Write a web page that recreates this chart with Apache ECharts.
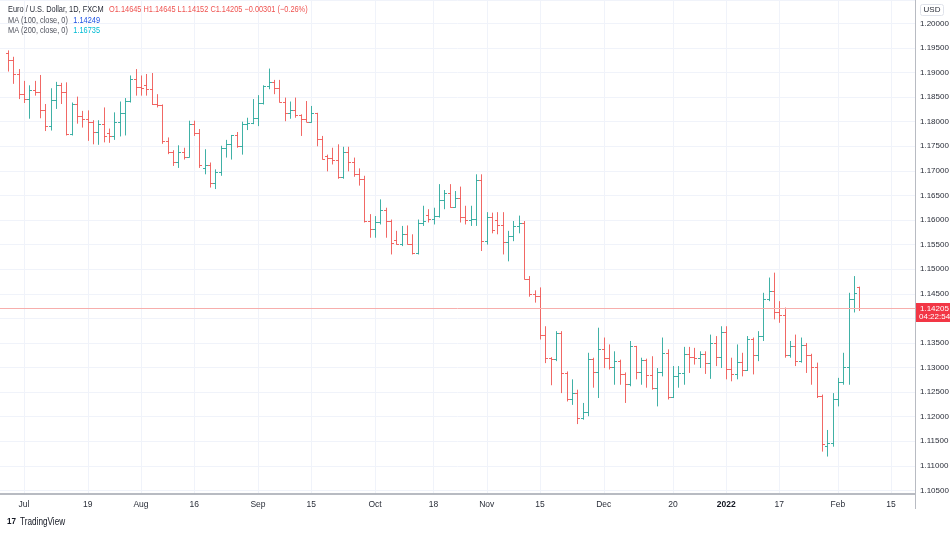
<!DOCTYPE html>
<html><head><meta charset="utf-8">
<script src="https://cdn.jsdelivr.net/npm/echarts@6/dist/echarts.min.js"></script>
<style>html,body{margin:0;padding:0;background:#fff}#c{width:950px;height:533px}</style>
</head><body><div id="c"></div><script>
// ---- categories: daily trading sessions (weekdays) ----
const firstDay = '2021-06-25';
const lastDay = '2022-02-21';
const days = [];
for (let d = new Date(firstDay + 'T00:00:00Z'); d <= new Date(lastDay + 'T00:00:00Z'); d.setUTCDate(d.getUTCDate() + 1)) {
  const w = d.getUTCDay();
  if (w !== 0 && w !== 6) days.push(d.toISOString().slice(0, 10));
}
// first bar with data
const firstBar = '2021-06-28';

// ---- OHLC values (EUR/USD daily, FXCM) ----
const open = [1.1940,1.1925,1.1897,1.1857,1.1847,1.1865,1.1861,1.1823,1.1791,1.1844,
1.1874,1.1861,1.1775,1.1836,1.1812,1.1806,1.1800,1.1780,1.1795,1.1776,
1.1770,1.1800,1.1818,1.1843,1.1887,1.1870,1.1875,1.1867,1.1836,1.1833,
1.1761,1.1738,1.1719,1.1738,1.1728,1.1796,1.1778,1.1705,1.1712,1.1676,
1.1697,1.1747,1.1754,1.1772,1.1751,1.1795,1.1797,1.1807,1.1838,1.1873,
1.1881,1.1868,1.1841,1.1817,1.1823,1.1813,1.1805,1.1800,1.1817,1.1764,
1.1730,1.1727,1.1723,1.1688,1.1739,1.1718,1.1694,1.1683,1.1598,1.1581,
1.1595,1.1621,1.1598,1.1560,1.1552,1.1572,1.1552,1.1532,1.1594,1.1610,
1.1602,1.1608,1.1640,1.1655,1.1626,1.1645,1.1607,1.1600,1.1603,1.1682,
1.1558,1.1607,1.1601,1.1590,1.1555,1.1567,1.1587,1.1594,1.1481,1.1449,
1.1445,1.1367,1.1320,1.1318,1.1371,1.1289,1.1237,1.1249,1.1198,1.1210,
1.1318,1.1290,1.1337,1.1319,1.1301,1.1314,1.1286,1.1266,1.1343,1.1291,
1.1316,1.1285,1.1258,1.1291,1.1330,1.1240,1.1282,1.1288,1.1327,1.1322,
1.1319,1.1327,1.1310,1.1350,1.1322,1.1372,1.1297,1.1287,1.1312,1.1296,
1.1359,1.1326,1.1365,1.1440,1.1455,1.1412,1.1406,1.1325,1.1344,1.1313,
1.1345,1.1325,1.1302,1.1242,1.1140,1.1147,1.1235,1.1271,1.1302,1.1440,
1.14645];
const high = [1.1945,1.1932,1.1907,1.1883,1.1874,1.1883,1.1895,1.1836,1.1868,1.1881,
1.1879,1.1880,1.1839,1.1851,1.1822,1.1823,1.1803,1.1803,1.1829,1.1786,
1.1819,1.1841,1.1848,1.1894,1.1907,1.1894,1.1897,1.1899,1.1856,1.1835,
1.1768,1.1742,1.1752,1.1747,1.1802,1.1802,1.1785,1.1744,1.1717,1.1703,
1.1751,1.1763,1.1773,1.1779,1.1800,1.1808,1.1846,1.1854,1.1874,1.1908,
1.1885,1.1885,1.1849,1.1841,1.1849,1.1815,1.1842,1.1832,1.1818,1.1771,
1.1733,1.1747,1.1754,1.1749,1.1749,1.1727,1.1705,1.1690,1.1612,1.1608,
1.1642,1.1625,1.1601,1.1578,1.1588,1.1589,1.1571,1.1601,1.1629,1.1622,
1.1625,1.1673,1.1661,1.1673,1.1659,1.1668,1.1629,1.1629,1.1693,1.1693,
1.1616,1.1615,1.1616,1.1616,1.1578,1.1598,1.1609,1.1598,1.1486,1.1457,
1.1463,1.1384,1.1321,1.1374,1.1374,1.1292,1.1276,1.1255,1.1228,1.1330,
1.1320,1.1381,1.1361,1.1347,1.1333,1.1316,1.1290,1.1354,1.1344,1.1320,
1.1318,1.1323,1.1299,1.1361,1.1337,1.1303,1.1303,1.1342,1.1342,1.1340,
1.1333,1.1333,1.1367,1.1364,1.1384,1.1384,1.1320,1.1347,1.1330,1.1364,
1.1361,1.1374,1.1452,1.1483,1.1493,1.1435,1.1422,1.1354,1.1367,1.1361,
1.1350,1.1328,1.1310,1.1245,1.1173,1.1248,1.1279,1.1330,1.1452,1.1486,
1.14645];
const low = [1.1902,1.1877,1.1846,1.1838,1.1806,1.1853,1.1807,1.1781,1.1782,1.1826,
1.1836,1.1772,1.1772,1.1796,1.1788,1.1761,1.1754,1.1753,1.1758,1.1757,
1.1763,1.1770,1.1772,1.1839,1.1853,1.1853,1.1853,1.1834,1.1829,1.1755,
1.1734,1.1710,1.1706,1.1723,1.1727,1.1771,1.1706,1.1693,1.1666,1.1663,
1.1690,1.1727,1.1723,1.1747,1.1733,1.1783,1.1795,1.1791,1.1835,1.1866,
1.1856,1.1839,1.1801,1.1806,1.1808,1.1771,1.1799,1.1798,1.1750,1.1723,
1.1699,1.1713,1.1684,1.1684,1.1699,1.1688,1.1670,1.1595,1.1564,1.1564,
1.1591,1.1564,1.1530,1.1550,1.1547,1.1550,1.1530,1.1530,1.1588,1.1595,
1.1591,1.1605,1.1622,1.1625,1.1625,1.1595,1.1591,1.1588,1.1588,1.1537,
1.1550,1.1573,1.1571,1.1530,1.1516,1.1557,1.1573,1.1479,1.1444,1.1432,
1.1357,1.1309,1.1264,1.1313,1.1248,1.1231,1.1224,1.1185,1.1194,1.1201,
1.1259,1.1238,1.1299,1.1296,1.1265,1.1265,1.1228,1.1262,1.1276,1.1265,
1.1259,1.1255,1.1221,1.1282,1.1235,1.1238,1.1259,1.1265,1.1289,1.1306,
1.1299,1.1287,1.1277,1.1303,1.1299,1.1276,1.1272,1.1276,1.1282,1.1293,
1.1286,1.1313,1.1354,1.1435,1.1398,1.1391,1.1320,1.1320,1.1303,1.1310,
1.1289,1.1265,1.1238,1.1129,1.1119,1.1139,1.1221,1.1265,1.1265,1.1412,
1.14152];
const close = [1.1925,1.1897,1.1857,1.1847,1.1865,1.1861,1.1823,1.1791,1.1844,1.1874,
1.1861,1.1775,1.1836,1.1812,1.1806,1.1800,1.1780,1.1795,1.1771,1.1770,
1.1800,1.1818,1.1843,1.1887,1.1870,1.1868,1.1867,1.1836,1.1833,1.1761,
1.1738,1.1719,1.1738,1.1728,1.1796,1.1778,1.1711,1.1712,1.1676,1.1697,
1.1747,1.1754,1.1772,1.1751,1.1795,1.1797,1.1807,1.1838,1.1873,1.1881,
1.1868,1.1841,1.1817,1.1823,1.1813,1.1805,1.1800,1.1817,1.1764,1.1724,
1.1727,1.1723,1.1688,1.1739,1.1718,1.1694,1.1683,1.1598,1.1581,1.1595,
1.1621,1.1598,1.1553,1.1552,1.1572,1.1552,1.1532,1.1594,1.1598,1.1602,
1.1608,1.1640,1.1655,1.1626,1.1645,1.1607,1.1600,1.1603,1.1682,1.1558,
1.1607,1.1580,1.1590,1.1555,1.1567,1.1587,1.1594,1.1481,1.1449,1.1445,
1.1367,1.1320,1.1318,1.1371,1.1289,1.1237,1.1249,1.1198,1.1210,1.1318,
1.1290,1.1337,1.1319,1.1301,1.1314,1.1286,1.1266,1.1343,1.1291,1.1316,
1.1285,1.1258,1.1291,1.1330,1.1240,1.1282,1.1288,1.1327,1.1322,1.1319,
1.1327,1.1310,1.1350,1.1322,1.1372,1.1297,1.1287,1.1312,1.1296,1.1359,
1.1326,1.1365,1.1440,1.1455,1.1412,1.1406,1.1325,1.1344,1.1313,1.1345,
1.1325,1.1302,1.1242,1.1144,1.1147,1.1235,1.1271,1.1302,1.1440,1.1451,
1.14205];

// ---- time-axis tick labels ----
const tickDates = ['2021-07-01','2021-07-19','2021-08-02','2021-08-16','2021-09-01','2021-09-15',
  '2021-10-01','2021-10-18','2021-11-01','2021-11-15','2021-12-01','2021-12-20',
  '2022-01-03','2022-01-17','2022-02-01','2022-02-15'];
const tickLabels = ['Jul','19','Aug','16','Sep','15','Oct','18','Nov','15','Dec','20','2022','17','Feb','15'];

// ---- legend texts ----
const symbolText = 'Euro / U.S. Dollar, 1D, FXCM';
const ohlcText = 'O1.14645 H1.14645 L1.14152 C1.14205 −0.00301 (−0.26%)';
const ma100 = 1.14249;
const ma200 = 1.16735;
const countdown = '04:22:54';

const UP = '#26a69a', DOWN = '#ef5350';
const F = '"Liberation Sans",Arial,sans-serif';
const SX = 0.82;

const start = days.indexOf(firstBar);
const data = open.map((o, i) => [start + i, o, high[i], low[i], close[i]]);
const lastClose = close[close.length - 1];

const chart = echarts.init(document.getElementById('c'), null, {renderer: 'canvas'});
chart.setOption({
  animation: false,
  backgroundColor: '#ffffff',
  grid: {left: 0, right: 35, top: 0, bottom: 39, outerBoundsMode: 'none', containLabel: false},
  xAxis: {
    type: 'category', data: days, boundaryGap: true,
    axisLine: {show: true, lineStyle: {color: '#b8bbc2', width: 2}},
    axisTick: {show: false},
    axisLabel: {
      interval: (i, v) => tickDates.includes(v),
      formatter: v => {
        const t = tickLabels[tickDates.indexOf(v)];
        return t === '2022' ? '{b|' + t + '}' : t;
      },
      rich: {b: {fontWeight: 'bold', fontSize: 8.5, fontFamily: F, color: '#131722'}},
      margin: 6, fontSize: 8.5, fontFamily: F, color: '#2a2e39'
    },
    splitLine: {show: true, alignWithLabel: true, interval: (i, v) => tickDates.includes(v),
      lineStyle: {color: '#f0f3fa', width: 1}}
  },
  yAxis: {
    type: 'value', position: 'right', scale: true,
    min: 1.10428, max: 1.20475, splitNumber: 20, minInterval: 0.005, maxInterval: 0.005,
    axisLine: {show: false}, axisTick: {show: false},
    axisLabel: {margin: 5, fontSize: 8, fontFamily: F, color: '#2a2e39',
      formatter: v => v.toFixed(5), showMinLabel: false, showMaxLabel: false},
    splitLine: {show: true, lineStyle: {color: '#f0f3fa', width: 1}}
  },
  series: [{
    type: 'custom',
    data: data,
    encode: {x: 0, y: [1, 2, 3, 4]},
    clip: true,
    renderItem: (params, api) => {
      const x = api.value(0);
      const o = api.coord([x, api.value(1)]);
      const h = api.coord([x, api.value(2)]);
      const l = api.coord([x, api.value(3)]);
      const c = api.coord([x, api.value(4)]);
      const col = api.value(4) >= api.value(1) ? UP : DOWN;
      const cx = Math.round(h[0]) + 0.5;
      const st = {stroke: col, lineWidth: 1, opacity: 0.88};
      const oy = Math.round(o[1]) + 0.5, cy = Math.round(c[1]) + 0.5;
      return {type: 'group', children: [
        {type: 'line', shape: {x1: cx, y1: h[1], x2: cx, y2: l[1]}, style: st},
        {type: 'line', shape: {x1: cx - 2.5, y1: oy, x2: cx, y2: oy}, style: st},
        {type: 'line', shape: {x1: cx, y1: cy, x2: cx + 2.5, y2: cy}, style: st}
      ]};
    }
  }, {
    // last-price line with its axis tag
    type: 'custom',
    data: [[days.length - 1, lastClose]],
    encode: {x: 0, y: 1},
    clip: false, z: 5,
    renderItem: (params, api) => {
      const cs = params.coordSys;
      const y = Math.round(api.coord([api.value(0), api.value(1)])[1]) + 0.5;
      const right = cs.x + cs.width;
      return {type: 'group', children: [
        {type: 'line', shape: {x1: cs.x, y1: y, x2: right, y2: y}, style: {stroke: '#f7aeac', lineWidth: 1}},
        {type: 'rect', shape: {x: right, y: y - 5.5, width: 950 - right, height: 19}, style: {fill: '#f23645'}},
        {type: 'text', x: right + 5, y: y, style: {text: api.value(1).toFixed(5), fill: '#fff', font: '8px ' + F, verticalAlign: 'middle'}},
        {type: 'text', x: right + 4, y: y + 8.5, style: {text: countdown, fill: '#fff', font: '8px ' + F, verticalAlign: 'middle'}}
      ]};
    }
  }],
  graphic: [
    {type: 'line', silent: true, shape: {x1: 915.5, y1: 0, x2: 915.5, y2: 509}, style: {stroke: '#b8bbc2', lineWidth: 1}, z: 10},
    {type: 'rect', silent: true, shape: {x: 920.5, y: 4.5, width: 23, height: 11, r: 2}, style: {fill: '#fff', stroke: '#e0e3eb', lineWidth: 1}, z: 10},
    {type: 'text', silent: true, x: 932, y: 10, style: {text: 'USD', font: '8px ' + F, fill: '#2a2e39', align: 'center', verticalAlign: 'middle'}, z: 11},
    {type: 'text', silent: true, x: 8, y: 10, scaleX: SX, z: 11, style: {
      text: '{a|' + symbolText + '}  {r|' + ohlcText + '}',
      rich: {a: {font: '9px ' + F, fill: '#2a2e39'}, r: {font: '9px ' + F, fill: '#ef5350'}},
      verticalAlign: 'middle'}},
    {type: 'text', silent: true, x: 8, y: 20.5, scaleX: SX, z: 11, style: {
      text: '{a|MA (100, close, 0)}  {v|' + ma100.toFixed(5) + '}',
      rich: {a: {font: '9px ' + F, fill: '#50535e'}, v: {font: '9px ' + F, fill: '#1e53e5'}},
      verticalAlign: 'middle'}},
    {type: 'text', silent: true, x: 8, y: 31, scaleX: SX, z: 11, style: {
      text: '{a|MA (200, close, 0)}  {v|' + ma200.toFixed(5) + '}',
      rich: {a: {font: '9px ' + F, fill: '#50535e'}, v: {font: '9px ' + F, fill: '#00bcd4'}},
      verticalAlign: 'middle'}},
    {type: 'text', silent: true, x: 7, y: 522, scaleX: 0.9, z: 11, style: {text: '17', font: '900 9px ' + F, fill: '#131722', verticalAlign: 'middle'}},
    {type: 'text', silent: true, x: 20, y: 522, scaleX: SX, z: 11, style: {text: 'TradingView', font: '10px ' + F, fill: '#131722', verticalAlign: 'middle'}}
  ]
});
</script></body></html>
